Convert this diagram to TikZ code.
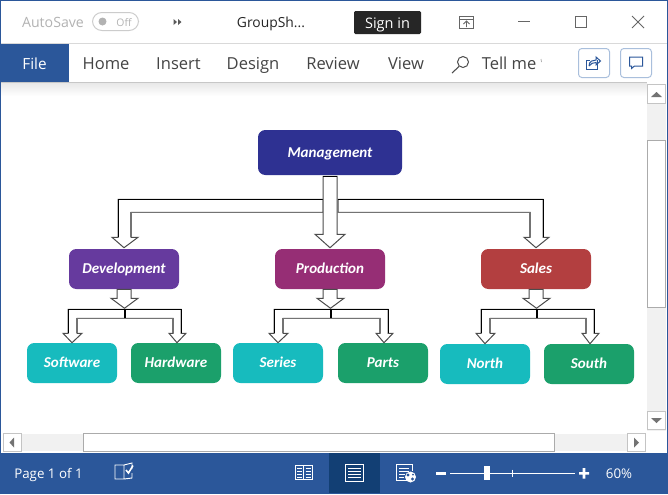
\documentclass[tikz,border=0pt]{standalone}
\usepackage{fontspec}
\setmainfont{Open Sans}
\newfontfamily\boxfont{Carlito}
\usetikzlibrary{calc}
\definecolor{wordblue}{HTML}{2B579A}
\definecolor{worddark}{HTML}{123F74}
\definecolor{uitext}{HTML}{444444}
\definecolor{uigrey}{HTML}{ABABAB}
\definecolor{track}{HTML}{F1F1F1}
\definecolor{iconblue}{HTML}{2B579A}
\definecolor{btnline}{HTML}{A9BFDC}
\definecolor{cMgmt}{HTML}{2E3192}
\definecolor{cDev}{HTML}{663A9E}
\definecolor{cProd}{HTML}{962E75}
\definecolor{cSales}{HTML}{B33F40}
\definecolor{cTeal}{HTML}{17BBBE}
\definecolor{cGreen}{HTML}{1BA06B}
\tikzset{
  orgbox/.style={rounded corners=5.5pt,inner sep=0pt,text=white,text height=9pt,text depth=2.2pt,font=\boxfont\fontsize{11.3pt}{13pt}\selectfont\bfseries\itshape,anchor=center},
  topbox/.style={orgbox,minimum width=108pt,minimum height=33.75pt},
  midbox/.style={orgbox,minimum width=82.5pt,minimum height=30pt},
  leafbox/.style={orgbox,minimum width=67.5pt,minimum height=30pt},
  blockfill/.style={fill=white,draw=black!70,line width=0.75pt,line join=miter},
  outeredge/.style={draw=black,line width=0.75pt},
  inneredge/.style={draw=black!55,line width=1pt},
  menu/.style={inner sep=0pt,text=uitext,font=\fontsize{12.4pt}{14pt}\selectfont,anchor=base},
  statustext/.style={inner sep=0pt,text=white,font=\fontsize{10pt}{12pt}\selectfont,anchor=base},
  scrollbtn/.style={draw=uigrey!70,fill=white,line width=0.75pt},
  scrollthumb/.style={draw=uigrey,fill=white,line width=0.75pt},
  glyph/.style={fill=black!55,draw=none},
  uiicon/.style={draw=black!60,line width=0.6pt,fill=none},
  whiteicon/.style={draw=white,line width=0.7pt,fill=none},
  blueicon/.style={draw=iconblue,line width=0.75pt,fill=none},
}
% second level: parent, left child, right child
\newcommand{\subfork}[3]{%
  \path[blockfill]
    ($(#2.north |- #1.south)+(-4,20)$) -- ($(#2.north |- #1.south)+(-4,44)$)
    -- ($(#2.north |- #1.south)+(-9,44)$) -- ($(#2.north)+(0,0)$)
    -- ($(#2.north |- #1.south)+(10,44)$) -- ($(#2.north |- #1.south)+(5,44)$)
    -- ($(#2.north |- #1.south)+(5,29)$) -- ($(#3.north |- #1.south)+(-3,29)$)
    -- ($(#3.north |- #1.south)+(-3,44)$) -- ($(#3.north |- #1.south)+(-7,44)$)
    -- ($(#3.north)+(1,0)$) -- ($(#3.north |- #1.south)+(10,44)$)
    -- ($(#3.north |- #1.south)+(5,44)$) -- ($(#3.north |- #1.south)+(5,20)$) -- cycle;
  \draw[outeredge] ($(#2.north |- #1.south)+(-4,44)$) -- ($(#2.north |- #1.south)+(-4,20)$)
    -- ($(#3.north |- #1.south)+(5,20)$) -- ($(#3.north |- #1.south)+(5,44)$);
  \draw[inneredge] ($(#2.north |- #1.south)+(5,44)$) -- ($(#2.north |- #1.south)+(5,29)$)
    -- ($(#3.north |- #1.south)+(-3,29)$) -- ($(#3.north |- #1.south)+(-3,44)$);
  \draw[black,line width=1.3pt] ($(#1.south)+(1,20)$) -- ($(#1.south)+(1,29)$);
  \path[blockfill]
    ($(#1.south)+(-7,0)$) -- ($(#1.south)+(-7,9)$) -- ($(#1.south)+(-13,9)$)
    -- ($(#1.south)+(0.5,19)$) -- ($(#1.south)+(14,9)$) -- ($(#1.south)+(7,9)$)
    -- ($(#1.south)+(7,0)$) -- cycle;
}
% top level: parent, left, middle, right child
\newcommand{\topfork}[4]{%
  \path[blockfill]
    ($(#1.south)+(-7,24)$) -- ($(#2.north |- #1.south)+(-6,24)$)
    -- ($(#2.north |- #1.south)+(-6,62)$) -- ($(#2.north |- #1.south)+(-12,62)$)
    -- ($(#2.north)+(0,-1)$) -- ($(#2.north |- #1.south)+(14,62)$)
    -- ($(#2.north |- #1.south)+(7,62)$) -- ($(#2.north |- #1.south)+(7,37)$)
    -- ($(#1.south)+(-7,37)$) -- cycle;
  \draw[outeredge] ($(#2.north |- #1.south)+(-6,62)$) -- ($(#2.north |- #1.south)+(-6,24)$) -- ($(#1.south)+(-7,24)$);
  \draw[inneredge] ($(#2.north |- #1.south)+(7,62)$) -- ($(#2.north |- #1.south)+(7,37)$) -- ($(#1.south)+(-7,37)$);
  \path[blockfill]
    ($(#1.south)+(8,24)$) -- ($(#4.north |- #1.south)+(7,24)$)
    -- ($(#4.north |- #1.south)+(7,62)$) -- ($(#4.north |- #1.south)+(13,62)$)
    -- ($(#4.north)+(0,-1)$) -- ($(#4.north |- #1.south)+(-12,62)$)
    -- ($(#4.north |- #1.south)+(-6,62)$) -- ($(#4.north |- #1.south)+(-6,37)$)
    -- ($(#1.south)+(8,37)$) -- cycle;
  \draw[outeredge] ($(#4.north |- #1.south)+(7,62)$) -- ($(#4.north |- #1.south)+(7,24)$) -- ($(#1.south)+(8,24)$);
  \draw[inneredge] ($(#4.north |- #1.south)+(-6,62)$) -- ($(#4.north |- #1.south)+(-6,37)$) -- ($(#1.south)+(8,37)$);
  \path[blockfill]
    ($(#1.south)+(-7,1)$) -- ($(#1.south)+(-7,59)$) -- ($(#1.south)+(-15,59)$)
    -- ($(#3.north)+(0,-1)$) -- ($(#1.south)+(15,59)$) -- ($(#1.south)+(7,59)$)
    -- ($(#1.south)+(7,1)$) -- cycle;
  \draw[outeredge] ($(#1.south)+(-7,1)$) -- ($(#1.south)+(7,1)$);
}
\begin{document}
\begin{tikzpicture}[x=0.75pt,y=-0.75pt]
\useasboundingbox (0,0) rectangle (668,494);
\fill[white] (0,0) rectangle (668,494);
% document shadow under ribbon
\shade[top color=black!9,bottom color=white] (1,83) rectangle (647,96);
% title bar
\node[inner sep=0pt,anchor=base,text=black!30,font=\fontsize{10.6pt}{13pt}\selectfont] (autosave) at (53,27) {AutoSave};
\draw[black!20,line width=0.75pt,rounded corners=7pt] (92.5,12.5) rectangle (138.5,30.5);
\fill[black!30] (102.5,21.5) circle (4);
\node[inner sep=0pt,anchor=base,text=black!30,font=\fontsize{7.8pt}{10pt}\selectfont] (off) at (124,26) {Off};
\fill[black!65] (173.5,19) -- (177,22) -- (173.5,25) -- cycle (178,19) -- (181.5,22) -- (178,25) -- cycle;
\node[inner sep=0pt,anchor=base,text=black!85,font=\fontsize{10.4pt}{13pt}\selectfont] (title) at (271,27) {GroupSh...};
\fill[black!85,rounded corners=1pt] (354,11) rectangle (421,34);
\node[inner sep=0pt,anchor=base,text=white,font=\fontsize{10.9pt}{13pt}\selectfont] (signin) at (387.5,28) {Sign in};
\draw[uiicon] (459.5,16.5) rectangle (473.5,28) (459.5,19) -- (473.5,19);
\draw[uiicon] (466.5,27) -- (466.5,21) (463.5,24) -- (466.5,21) -- (469.5,24);
\draw[black!60,line width=0.75pt] (518,21.5) -- (530,21.5);
\draw[black!60,line width=0.75pt] (575.5,16.5) rectangle (586.5,27.5);
\draw[black!60,line width=0.75pt] (632,16) -- (644,28) (644,16) -- (632,28);
% ribbon
\draw[black!15,line width=0.75pt] (1,43.5) -- (667,43.5);
\draw[black!22,line width=0.75pt] (1,82.5) -- (647,82.5);
\fill[wordblue] (1,44) rectangle (69,82);
\node[inner sep=0pt,anchor=base,text=white,font=\fontsize{11.5pt}{14pt}\selectfont] (file) at (34.5,69) {File};
\node[menu] (home) at (106,69) {Home};
\node[menu] (insert) at (178.5,69) {Insert};
\node[menu] (design) at (253,69) {Design};
\node[menu] (review) at (333,69) {Review};
\node[menu] (view) at (406,69) {View};
\draw[black!70,line width=0.75pt] (463,62) circle (5.5);
\draw[black!70,line width=0.8pt] (459,66.5) -- (452,73);
\node[menu,anchor=base west] (tell) at (481.5,69) {Tell me};
\draw[black!35,line width=0.5pt] (541,59) -- (541.5,62);
\draw[btnline,line width=0.75pt,rounded corners=2.5pt] (578.5,48.5) rectangle (609.5,77.5);
\draw[btnline,line width=0.75pt,rounded corners=2.5pt] (620.5,48.5) rectangle (651.5,77.5);
\draw[blueicon] (597,60) -- (597,69.5) -- (586.5,69.5) -- (586.5,60) -- (590,60);
\draw[blueicon] (589,66) .. controls (589,61) and (593,60) .. (596,60) -- (596,57) -- (600.5,61) -- (596,65) -- (596,62.5) .. controls (593,62.5) and (591,63.5) .. (589,66);
\draw[blueicon] (629.5,57) -- (642.5,57) -- (642.5,66) -- (634.5,66) -- (631.5,68.5) -- (631.5,66) -- (629.5,66) -- cycle;
% scrollbars
\fill[track] (647,84) rectangle (666,431);
\fill[track] (4,434) rectangle (645,451);
\draw[scrollbtn] (647.5,84.5) rectangle (665.5,103.5);
\fill[glyph] (651,97) -- (656.5,92) -- (662,97) -- cycle;
\draw[scrollthumb] (647.5,140.5) rectangle (665.5,307.5);
\draw[scrollbtn] (647.5,411.5) rectangle (665.5,429.5);
\fill[glyph] (651,418) -- (656.5,423) -- (662,418) -- cycle;
\draw[scrollbtn] (3.5,433.5) rectangle (21.5,451.5);
\fill[glyph] (9.5,442.5) -- (14,437.5) -- (14,447.5) -- cycle;
\draw[scrollthumb] (83.5,433.5) rectangle (554.5,451.5);
\draw[scrollbtn] (627.5,433.5) rectangle (645.5,451.5);
\fill[glyph] (634,437.5) -- (639,442.5) -- (634,447.5) -- cycle;
% status bar
\fill[wordblue] (0,453) rectangle (668,494);
\fill[worddark] (329,453) rectangle (380,493);
\node[statustext] (page) at (48.5,478) {Page 1 of 1};
\draw[whiteicon] (124,465) -- (115,465) -- (115,479) -- (124,479) -- (124,465) -- (132,463) -- (132,469) (132,473) -- (132,478) -- (124,479);
\draw[white,line width=1.2pt] (126,470) -- (128.5,473) -- (133,465.5);
\draw[whiteicon] (295,465) rectangle (312.5,479) (303.7,465) -- (303.7,480);
\draw[white,line width=0.5pt] (297,468) -- (302,468) (297,471) -- (302,471) (297,474) -- (302,474) (297,477) -- (302,477) (305.5,468) -- (311,468) (305.5,471) -- (311,471) (305.5,474) -- (311,474) (305.5,477) -- (311,477);
\draw[whiteicon] (345.5,464.5) rectangle (363.5,481.5);
\draw[white,line width=0.6pt] (348,468) -- (361,468) (348,471) -- (361,471) (348,474) -- (361,474) (348,477) -- (361,477);
\draw[whiteicon] (412,480) -- (396.5,480) -- (396.5,464.5) -- (412,464.5) -- (412,471);
\draw[white,line width=0.5pt] (399,468) -- (409,468) (399,471) -- (409,471) (399,474) -- (405,474) (399,477) -- (404,477);
\fill[white] (410.5,477) circle (5.5);
\fill[wordblue] (408,475) circle (1.6) (412.5,479) circle (1.6) (413,474.5) circle (1);
\fill[white] (436,472) rectangle (446,474.5);
\draw[white,line width=0.75pt] (450,473) -- (575,473) (512.5,469.5) -- (512.5,477);
\fill[white] (484,466) rectangle (490,480);
\fill[white] (579,472) rectangle (589,474.5) (582.7,468) rectangle (585.3,478.5);
\node[statustext] (zoomlevel) at (619,478) {60\%};
% window frame
\draw[wordblue,line width=1pt] (0.7,494) -- (0.7,0.7) -- (667.3,0.7) -- (667.3,494);
% diagram boxes
\node[topbox,fill=cMgmt] (mgmt) at (330,152.5) {Management};
\node[midbox,fill=cDev] (dev) at (124,269) {Development};
\node[midbox,fill=cProd] (prod) at (330,269) {Production};
\node[midbox,fill=cSales] (sales) at (536,269) {Sales};
\node[leafbox,fill=cTeal] (soft) at (72,363) {Software};
\node[leafbox,fill=cGreen] (hard) at (176,363) {Hardware};
\node[leafbox,fill=cTeal] (series) at (278,363) {Series};
\node[leafbox,fill=cGreen] (parts) at (383,363) {Parts};
\node[leafbox,fill=cTeal] (north) at (485,364) {North};
\node[leafbox,fill=cGreen] (south) at (589,364) {South};
% connectors
\topfork{mgmt}{dev}{prod}{sales}
\subfork{dev}{soft}{hard}
\subfork{prod}{series}{parts}
\subfork{sales}{north}{south}
\end{tikzpicture}
\end{document}
